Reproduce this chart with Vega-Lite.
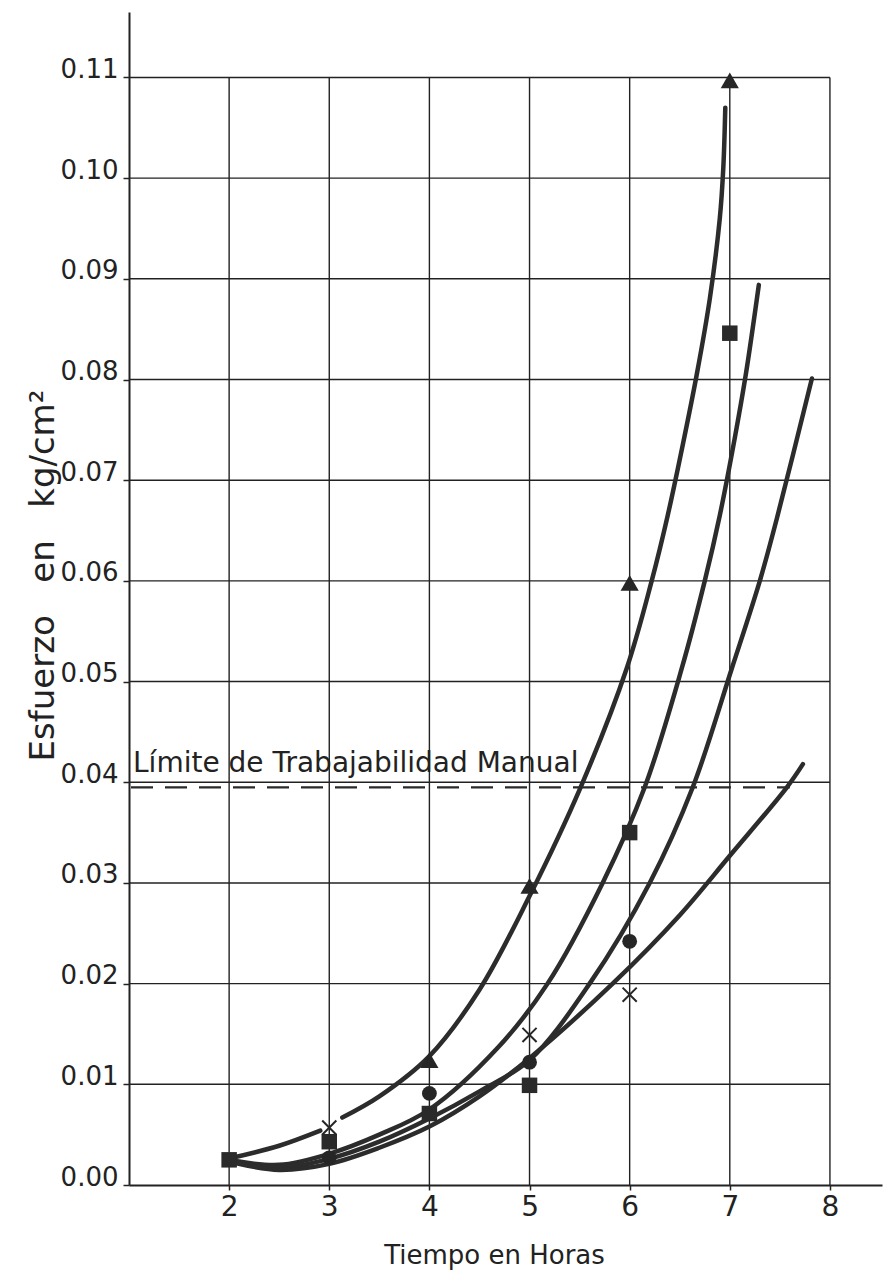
{
  "$schema": "https://vega.github.io/schema/vega-lite/v6.json",
  "width": 753,
  "height": 1173,
  "autosize": {"type": "none"},
  "padding": {"left": 129, "top": 12, "right": 2, "bottom": 91},
  "background": "white",
  "config": {"view": {"stroke": null}, "font": "DejaVu Sans"},
  "datasets": {
    "rejillaX": [{"x": 2}, {"x": 3}, {"x": 4}, {"x": 5}, {"x": 6}, {"x": 7}, {"x": 8}],
    "rejillaY": [
      {"y": 0.01}, {"y": 0.02}, {"y": 0.03}, {"y": 0.04}, {"y": 0.05}, {"y": 0.06},
      {"y": 0.07}, {"y": 0.08}, {"y": 0.09}, {"y": 0.10}, {"y": 0.11}
    ],
    "limite": [{"y": 0.0395, "x": 1.02, "x2": 7.6, "etiqueta": "Límite de Trabajabilidad Manual", "xt": 1.04, "yt": 0.0410}],
    "curvas": [
      {"seg": "A1", "x": 2.03, "y": 0.0027},
      {"seg": "A1", "x": 2.5, "y": 0.0039},
      {"seg": "A1", "x": 2.91, "y": 0.0054},
      {"seg": "A2", "x": 3.13, "y": 0.0067},
      {"seg": "A2", "x": 3.5, "y": 0.0088},
      {"seg": "A2", "x": 4.0, "y": 0.0128},
      {"seg": "A2", "x": 4.5, "y": 0.0194},
      {"seg": "A2", "x": 5.0, "y": 0.0287},
      {"seg": "A2", "x": 5.51, "y": 0.0395},
      {"seg": "A2", "x": 5.97, "y": 0.0513},
      {"seg": "A2", "x": 6.22, "y": 0.0600},
      {"seg": "A2", "x": 6.38, "y": 0.0665},
      {"seg": "A2", "x": 6.53, "y": 0.0735},
      {"seg": "A2", "x": 6.67, "y": 0.0805},
      {"seg": "A2", "x": 6.8, "y": 0.0880},
      {"seg": "A2", "x": 6.9, "y": 0.0960},
      {"seg": "A2", "x": 6.935, "y": 0.1010},
      {"seg": "A2", "x": 6.955, "y": 0.1070},
      {"seg": "B", "x": 2.05, "y": 0.0024},
      {"seg": "B", "x": 2.5, "y": 0.0020},
      {"seg": "B", "x": 3.0, "y": 0.0031},
      {"seg": "B", "x": 3.5, "y": 0.0050},
      {"seg": "B", "x": 4.0, "y": 0.0075},
      {"seg": "B", "x": 4.68, "y": 0.0136},
      {"seg": "B", "x": 5.18, "y": 0.0200},
      {"seg": "B", "x": 5.73, "y": 0.0300},
      {"seg": "B", "x": 6.15, "y": 0.0395},
      {"seg": "B", "x": 6.52, "y": 0.0513},
      {"seg": "B", "x": 6.75, "y": 0.0600},
      {"seg": "B", "x": 6.9, "y": 0.0665},
      {"seg": "B", "x": 7.05, "y": 0.0742},
      {"seg": "B", "x": 7.16, "y": 0.0805},
      {"seg": "B", "x": 7.29, "y": 0.0894},
      {"seg": "C", "x": 2.05, "y": 0.0023},
      {"seg": "C", "x": 2.5, "y": 0.0017},
      {"seg": "C", "x": 3.0, "y": 0.0026},
      {"seg": "C", "x": 3.5, "y": 0.0043},
      {"seg": "C", "x": 4.0, "y": 0.0066},
      {"seg": "C", "x": 4.5, "y": 0.0093},
      {"seg": "C", "x": 5.0, "y": 0.0124},
      {"seg": "C", "x": 5.6, "y": 0.0200},
      {"seg": "C", "x": 6.2, "y": 0.0300},
      {"seg": "C", "x": 6.63, "y": 0.0395},
      {"seg": "C", "x": 7.02, "y": 0.0513},
      {"seg": "C", "x": 7.3, "y": 0.0600},
      {"seg": "C", "x": 7.47, "y": 0.0662},
      {"seg": "C", "x": 7.82, "y": 0.0801},
      {"seg": "D", "x": 2.05, "y": 0.0022},
      {"seg": "D", "x": 2.5, "y": 0.0015},
      {"seg": "D", "x": 3.0, "y": 0.0021},
      {"seg": "D", "x": 3.5, "y": 0.0037},
      {"seg": "D", "x": 4.0, "y": 0.0058},
      {"seg": "D", "x": 4.5, "y": 0.0088},
      {"seg": "D", "x": 5.0, "y": 0.0126},
      {"seg": "D", "x": 5.83, "y": 0.0200},
      {"seg": "D", "x": 6.5, "y": 0.0268},
      {"seg": "D", "x": 7.0, "y": 0.0327},
      {"seg": "D", "x": 7.57, "y": 0.0395},
      {"seg": "D", "x": 7.73, "y": 0.0418}
    ],
    "ensayos": [
      {"tipo": "triangulo", "x": 4, "y": 0.0124},
      {"tipo": "triangulo", "x": 5, "y": 0.0297},
      {"tipo": "triangulo", "x": 6, "y": 0.0598},
      {"tipo": "triangulo", "x": 7, "y": 0.1097},
      {"tipo": "cuadrado", "x": 2, "y": 0.0025},
      {"tipo": "cuadrado", "x": 3, "y": 0.0043},
      {"tipo": "cuadrado", "x": 4, "y": 0.0071},
      {"tipo": "cuadrado", "x": 5, "y": 0.0099},
      {"tipo": "cuadrado", "x": 6, "y": 0.0350},
      {"tipo": "cuadrado", "x": 7, "y": 0.0846},
      {"tipo": "circulo", "x": 3, "y": 0.0027},
      {"tipo": "circulo", "x": 4, "y": 0.0091},
      {"tipo": "circulo", "x": 5, "y": 0.0122},
      {"tipo": "circulo", "x": 6, "y": 0.0242},
      {"tipo": "cruz", "x": 3, "y": 0.0057},
      {"tipo": "cruz", "x": 5, "y": 0.0149},
      {"tipo": "cruz", "x": 6, "y": 0.0189}
    ]
  },
  "layer": [
    {
      "data": {"name": "rejillaX"},
      "mark": {"type": "rule", "color": "#222222", "strokeWidth": 1.4},
      "encoding": {
        "x": {
          "field": "x",
          "type": "quantitative",
          "scale": {"domain": [1, 8.52], "nice": false, "zero": false},
          "axis": {
            "title": "Tiempo en Horas",
            "values": [2, 3, 4, 5, 6, 7, 8],
            "format": "d",
            "grid": false,
            "labelFlush": false,
            "labelOverlap": false,
            "labelFontSize": 28,
            "labelColor": "#222222",
            "labelPadding": 3,
            "tickSize": 5,
            "tickWidth": 1.5,
            "tickColor": "#222222",
            "domainColor": "#222222",
            "domainWidth": 2,
            "titleFontSize": 26,
            "titleFontWeight": "normal",
            "titleColor": "#222222",
            "titleX": 365,
            "titleY": 78,
            "titleAlign": "center",
            "titleBaseline": "alphabetic"
          }
        },
        "y": {
          "datum": 0,
          "type": "quantitative",
          "scale": {"domain": [0, 0.1165], "nice": false, "zero": false}
        },
        "y2": {"datum": 0.11}
      }
    },
    {
      "data": {"name": "rejillaY"},
      "mark": {"type": "rule", "color": "#222222", "strokeWidth": 1.4},
      "encoding": {
        "y": {
          "field": "y",
          "type": "quantitative",
          "axis": {
            "title": "Esfuerzo\u00a0\u00a0\u00a0en\u00a0\u00a0\u00a0kg/cm²",
            "values": [0, 0.01, 0.02, 0.03, 0.04, 0.05, 0.06, 0.07, 0.08, 0.09, 0.10, 0.11],
            "format": ".2f",
            "grid": false,
            "labelFlush": false,
            "labelOverlap": false,
            "labelFontSize": 26,
            "labelColor": "#222222",
            "labelBaseline": "alphabetic",
            "labelPadding": 5,
            "tickSize": 6,
            "tickWidth": 1.5,
            "tickColor": "#222222",
            "domainColor": "#222222",
            "domainWidth": 2,
            "titleFontSize": 34,
            "titleFontWeight": "normal",
            "titleColor": "#222222",
            "titleX": -76,
            "titleY": 563,
            "titleAlign": "center",
            "titleBaseline": "alphabetic"
          }
        },
        "x": {"datum": 1, "type": "quantitative"},
        "x2": {"datum": 8}
      }
    },
    {
      "data": {"name": "limite"},
      "mark": {"type": "rule", "color": "#2a2a2a", "strokeWidth": 2.2, "strokeDash": [22, 12]},
      "encoding": {
        "y": {"field": "y", "type": "quantitative"},
        "x": {"field": "x", "type": "quantitative"},
        "x2": {"field": "x2"}
      }
    },
    {
      "data": {"name": "limite"},
      "mark": {
        "type": "text",
        "align": "left",
        "baseline": "alphabetic",
        "fontSize": 28,
        "color": "#222222"
      },
      "encoding": {
        "text": {"field": "etiqueta"},
        "x": {"field": "xt", "type": "quantitative"},
        "y": {"field": "yt", "type": "quantitative"}
      }
    },
    {
      "data": {"name": "curvas"},
      "mark": {
        "type": "line",
        "interpolate": "catmull-rom",
        "color": "#2c2c2c",
        "strokeWidth": 4.5,
        "strokeCap": "round"
      },
      "encoding": {
        "x": {"field": "x", "type": "quantitative"},
        "y": {"field": "y", "type": "quantitative"},
        "detail": {"field": "seg"}
      }
    },
    {
      "data": {"name": "ensayos"},
      "transform": [{"filter": "datum.tipo === 'triangulo'"}],
      "mark": {"type": "point", "shape": "triangle-up", "filled": true, "color": "#262626", "size": 330, "opacity": 1},
      "encoding": {
        "x": {"field": "x", "type": "quantitative"},
        "y": {"field": "y", "type": "quantitative"}
      }
    },
    {
      "data": {"name": "ensayos"},
      "transform": [{"filter": "datum.tipo === 'cuadrado'"}],
      "mark": {"type": "point", "shape": "square", "filled": true, "color": "#2a2a2a", "size": 240, "opacity": 1},
      "encoding": {
        "x": {"field": "x", "type": "quantitative"},
        "y": {"field": "y", "type": "quantitative"}
      }
    },
    {
      "data": {"name": "ensayos"},
      "transform": [{"filter": "datum.tipo === 'circulo'"}],
      "mark": {"type": "point", "shape": "circle", "filled": true, "color": "#262626", "size": 220, "opacity": 1},
      "encoding": {
        "x": {"field": "x", "type": "quantitative"},
        "y": {"field": "y", "type": "quantitative"}
      }
    },
    {
      "data": {"name": "ensayos"},
      "transform": [{"filter": "datum.tipo === 'cruz'"}],
      "mark": {
        "type": "point",
        "shape": "M-1,-1L1,1M1,-1L-1,1",
        "filled": false,
        "color": "#262626",
        "strokeWidth": 2,
        "size": 200,
        "opacity": 1
      },
      "encoding": {
        "x": {"field": "x", "type": "quantitative"},
        "y": {"field": "y", "type": "quantitative"}
      }
    }
  ]
}
